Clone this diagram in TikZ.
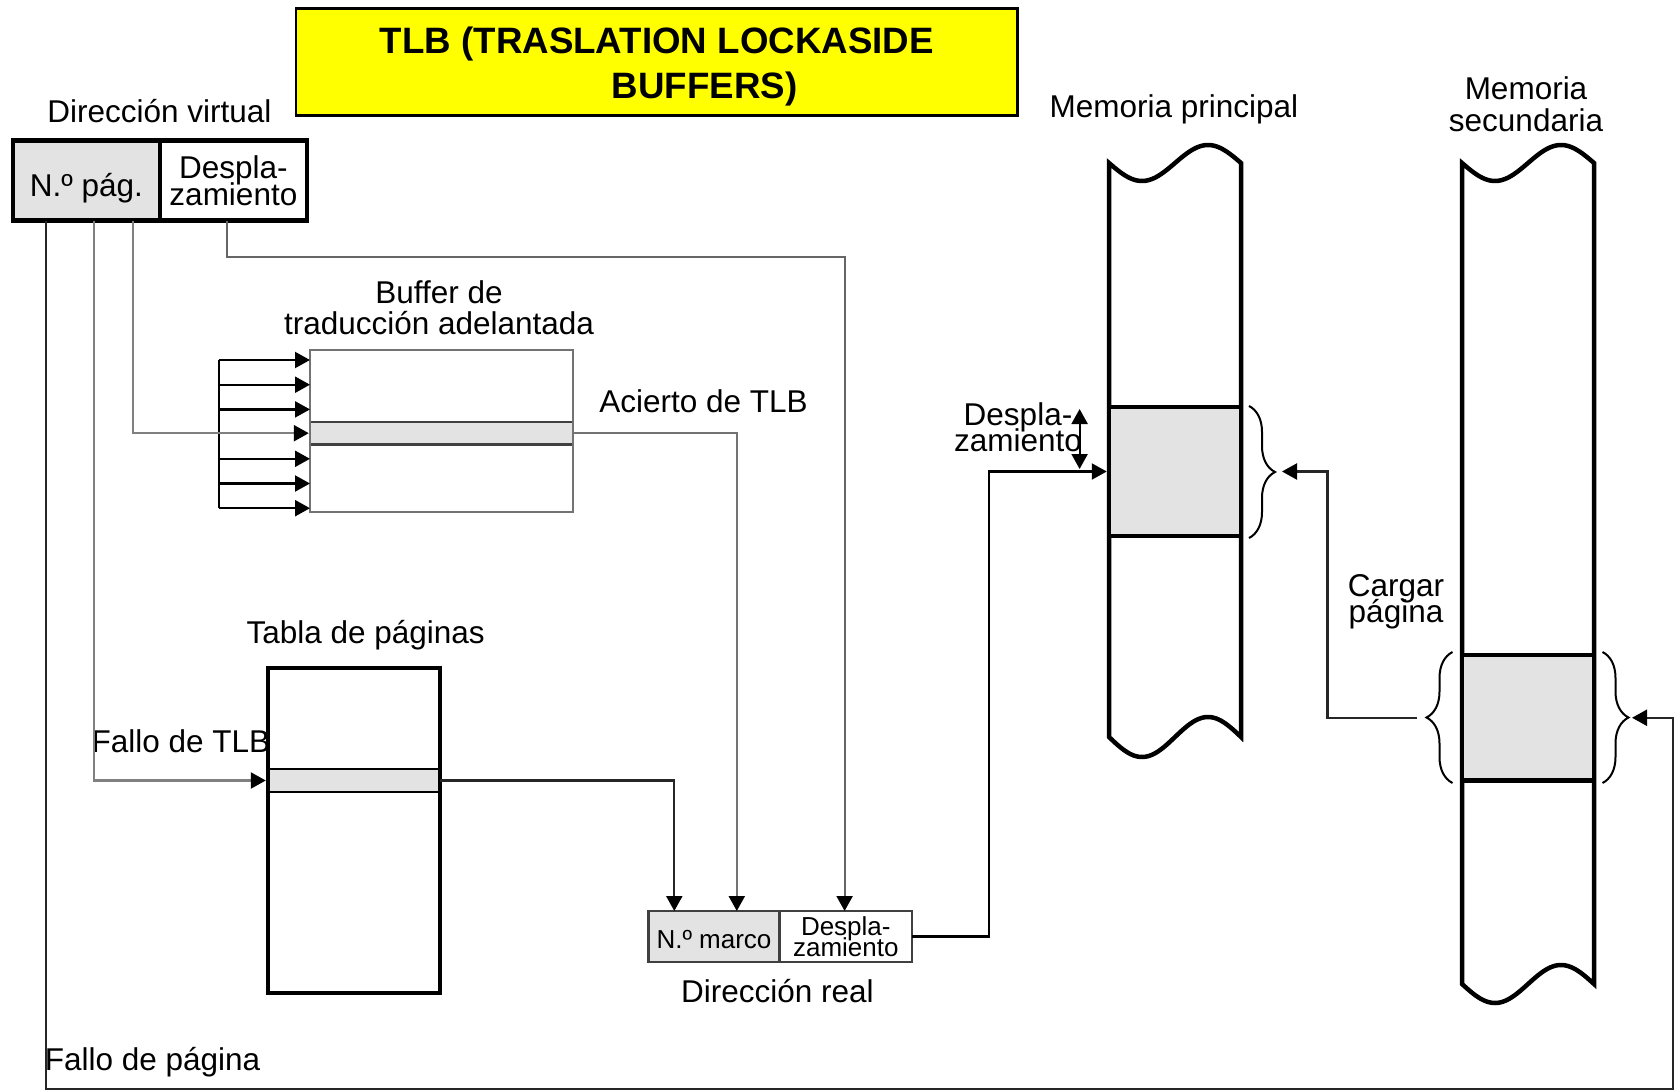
\documentclass[tikz,border=0pt]{standalone}
\usepackage{fontspec}
\setmainfont{Liberation Sans}
\usetikzlibrary{arrows.meta,decorations.pathreplacing}
\lineskiplimit=-100pt
\definecolor{cellgray}{HTML}{E3E3E3}
\definecolor{ttlyellow}{HTML}{FFFF00}
\newcommand{\fmain}{\fontsize{15.75}{16}\selectfont}
\begin{document}
\begin{tikzpicture}[x=0.5pt,y=-0.5pt,>={Triangle[length=7.5pt,width=8pt,color=black]},
  cell/.style={draw,inner sep=0pt,outer sep=0pt,anchor=center},
  lbl/.style={inner sep=0pt,anchor=base,font=\fmain},
  conn/.style={line width=1.1pt,->},
  mem/.style={line width=2.25pt},
  blk/.style={inner sep=0pt,outer sep=0pt,fill=cellgray,minimum width=63.75pt},
  brc/.style={decorate,decoration={brace,amplitude=13pt},line width=1pt}]
\useasboundingbox (0,0) rectangle (1675,1091);

% title
\node[draw,line width=1.2pt,fill=ttlyellow,minimum width=360.8pt,minimum height=53.4pt,inner sep=0pt,align=center,
      font=\bfseries\fontsize{18.35}{22.8}\selectfont] (title) at (656.8,62)
      {\rule{0pt}{17.8pt}TLB (TRASLATION LOCKASIDE\\\hspace*{47.8pt}BUFFERS)};

% virtual address
\node[lbl] (lva) at (159.5,123) {Dirección virtual};
\node[cell,line width=2.25pt,fill=cellgray,minimum width=73.5pt,minimum height=40.2pt,font=\fmain,
      text height=16.5pt,text depth=0pt] (vpag) at (86.5,180.5) {N.º pág.};
\node[cell,line width=2.25pt,fill=white,minimum width=73.4pt,minimum height=40.2pt,align=center,
      font=\fontsize{15.75}{13.5}\selectfont] (vdesp) at (233.4,180.5) {Despla-\\zamiento};

% TLB
\node[lbl,align=center,font=\fontsize{15.75}{16}\selectfont] (lbuf) at (439,335) {Buffer de\\traducción adelantada};
\node[cell,draw=black!75,line width=1.1pt,fill=cellgray,minimum width=131.5pt,minimum height=11.25pt] (tlbrow) at (441.5,433.2) {};
\node[cell,draw=black!55,line width=1.25pt,minimum width=131.5pt,minimum height=81pt] (tlb) at (441.5,431) {};
\node[lbl] (lacierto) at (703.5,412) {Acierto de TLB};

% bus into TLB
\coordinate (busT) at (218.6,360);
\coordinate (busB) at (218.6,508.2);
\draw[line width=1.1pt] (busT) -- (busB);
\foreach \yy [count=\i] in {360,384.7,409.4,458.8,483.5,508.2}{
  \coordinate (b\i) at (218.6,\yy);
  \draw[line width=1.1pt,->] (b\i) -- (b\i -| tlb.west);
}

% page table
\node[lbl] (ltab) at (365.7,643.3) {Tabla de páginas};
\node[cell,line width=1.1pt,fill=cellgray,minimum width=86pt,minimum height=11.2pt] (ptrow) at (354,780.5) {};
\node[cell,line width=2.25pt,minimum width=86pt,minimum height=162.5pt] (ptab) at (354,830.5) {};
\node[lbl] (lftlb) at (181,752.7) {Fallo de TLB};
\node[lbl] (lfpag) at (152.6,1070) {Fallo de página};

% real address
\node[cell,draw=black!75,line width=1.1pt,fill=cellgray,minimum width=65.5pt,minimum height=25.5pt,
      font=\fontsize{13}{13}\selectfont,text height=11.8pt,text depth=0pt] (rpag) at (714,936.5) {N.º marco};
\node[cell,draw=black!75,line width=1.1pt,fill=white,minimum width=66.2pt,minimum height=25.5pt,align=center,
      font=\fontsize{13}{10.65}\selectfont] (rdesp) at (845.8,936.5) {Despla-\\zamiento};
\node[lbl] (lreal) at (777.5,1002.7) {Dirección real};

% main memory
\node[lbl] (lmp) at (1174,118) {Memoria principal};
\draw[mem,fill=white] plot[domain=0:132,samples=60,variable=\t] ({1109+\t},{163+18*sin(2.72727*\t)})
   -- plot[domain=132:0,samples=60,variable=\t] ({1109+\t},{737+20*sin(2.72727*\t)}) -- cycle;
\node[blk,minimum height=64.5pt] (mmblk) at (1175,471.5) {};
\draw[mem] (1109,407) -- (1241,407) (1109,536) -- (1241,536);
\draw[brc] (1249,406) -- (1249,538);

% secondary memory
\node[lbl,align=center,font=\fontsize{15.75}{16}\selectfont] (lms) at (1526,132) {Memoria\\secundaria};
\draw[mem,fill=white] plot[domain=0:132,samples=60,variable=\t] ({1462+\t},{163+18*sin(2.72727*\t)})
   -- plot[domain=132:0,samples=60,variable=\t] ({1462+\t},{984+19*sin(2.72727*\t)}) -- cycle;
\node[blk,minimum height=62.75pt] (smblk) at (1528,717.75) {};
\draw[mem] (1462,655) -- (1594,655) (1462,780.5) -- (1594,780.5);
\draw[brc] (1452.5,783) -- (1452.5,652);
\draw[brc] (1602.5,652) -- (1602.5,783);

% labels near memory
\node[lbl,align=center,font=\fontsize{15.75}{13.35}\selectfont] (ldesp) at (1018,451.7) {Despla-\\zamiento};
\node[lbl,align=center,font=\fontsize{15.75}{13}\selectfont] (lcarg) at (1396,622.7) {Cargar\\página};

% coordinates
\coordinate (dc) at (844.6,256.7);
\coordinate (ax1) at (674.3,0);
\coordinate (ax2) at (736.8,0);
\coordinate (jx) at (988.6,0);
\coordinate (kx) at (1327.5,0);
\coordinate (mbT) at (1282,471.5);
\coordinate (sbL) at (1417,717.75);
\coordinate (sbR) at (1632,717.75);
\coordinate (pfC) at (1673,1089);
\coordinate (dA) at (1079.6,409);
\coordinate (dB) at (1079.6,469);

% connectors
\draw[conn,draw=black!60] ([xshift=33.5pt]vdesp.south west) |- (dc) -- (dc |- rdesp.north);
\draw[conn,draw=black!50] ([xshift=59.95pt]vpag.south west) |- ([xshift=-0.6pt]tlbrow.west);
\draw[conn,draw=black!50] ([xshift=40.3pt]vpag.south west) |- ([xshift=-1.1pt]ptrow.west);
\draw[conn,draw=black!85] ([xshift=16.35pt]vpag.south west) |- (pfC) |- (sbR);
\draw[conn,draw=black!55] (tlbrow.east) -| (ax2 |- rpag.north);
\draw[conn,draw=black!85] (ptrow.east) -| (ax1 |- rpag.north);
\draw[conn] (rdesp.east) -| (jx |- mmblk.west) -- ([xshift=-2.25pt]mmblk.west);
\draw[line width=1.1pt,<->] (dA) -- (dB);
\draw[conn,draw=black!85] (sbL) -| (kx |- mbT) -- (mbT);
\end{tikzpicture}
\end{document}
